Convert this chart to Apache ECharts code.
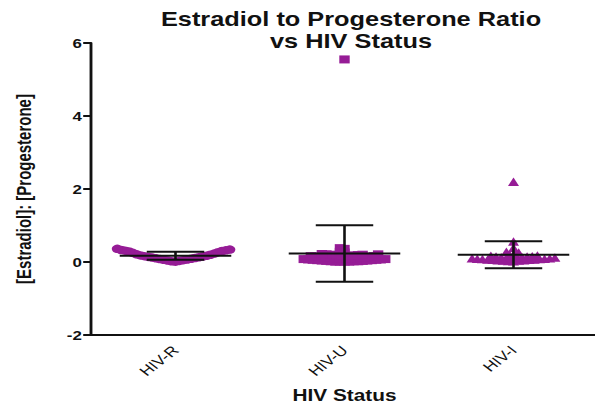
<!DOCTYPE html>
<html>
<head>
<meta charset="utf-8">
<script src="https://cdn.jsdelivr.net/npm/echarts@6/dist/echarts.min.js"></script>
<style>
  html, body { margin: 0; padding: 0; background: #fff; overflow: hidden; }
  #wrap { width: 595px; height: 408px; overflow: hidden; position: relative; }
  /* the figure is laid out narrow and widened horizontally */
  #chart { width: 460px; height: 408px; transform: scaleX(1.3); transform-origin: 0 0; }
</style>
</head>
<body>
<div id="wrap"><div id="chart"></div></div>
<script>
// Groups on the x axis
const categories = ['HIV-R', 'HIV-U', 'HIV-I'];

// Estradiol : progesterone ratio per subject
const hivR = [0.01, 0.02, 0.03, 0.04, 0.05, 0.06, 0.07, 0.08, 0.09, 0.10,
  0.11, 0.12, 0.13, 0.14, 0.15, 0.16, 0.17, 0.18, 0.20, 0.21,
  0.23, 0.25, 0.27, 0.29, 0.30, 0.31, 0.32, 0.33, 0.34, 0.36];

const hivU = [5.55, 0.38, 0.36, 0.28, 0.26,
  0.22, 0.21, 0.21, 0.20, 0.20, 0.19, 0.19, 0.18, 0.18, 0.17, 0.17, 0.16, 0.16, 0.15, 0.15,
  0.14, 0.13, 0.13, 0.12, 0.12, 0.11, 0.11, 0.10, 0.10, 0.09, 0.09, 0.08,
  0.08, 0.07, 0.07, 0.06, 0.06, 0.05, 0.05, 0.04,
  0.04, 0.03, 0.03, 0.02, 0.02, 0.02, 0.01, 0.01, 0.01, 0.01];

const hivI = [2.20, 0.56, 0.39, 0.28, 0.26, 0.23, 0.20,
  0.18, 0.17, 0.16, 0.15, 0.15, 0.14, 0.13, 0.13, 0.12, 0.12, 0.11, 0.10, 0.10,
  0.09, 0.09, 0.08, 0.08, 0.07, 0.07, 0.06, 0.06, 0.05, 0.05, 0.04, 0.04, 0.03, 0.02];

// Y axis range and tick step
const yMin = -2, yMax = 6, yStep = 2;

// Plot area in (unscaled) chart pixels
const GRID = { left: 70, top: 43, width: 392, height: 294 };
const pxPerX = GRID.width / categories.length;
const pxPerY = GRID.height / (yMax - yMin);

const PURPLE = '#961c96';
const INK = '#111111';
const FONT = '"Liberation Sans", Arial, Helvetica, sans-serif';

// Beeswarm: lowest values sit at the centre, higher ones are pushed outwards.
// yWeight < 1 flattens the swarm into a wider, shallower spread.
function swarm(values, center, minDist, yWeight) {
  const sorted = values.slice().sort((a, b) => a - b);
  const placed = [];
  const out = [];
  sorted.forEach(v => {
    const py = v * pxPerY * yWeight;
    let dx = 0;
    for (let k = 0; k < 600; k++) {
      const cand = (k % 2 === 0 ? 1 : -1) * Math.ceil(k / 2) * 0.5;
      const ok = placed.every(p => {
        const ddx = p[0] - cand, ddy = p[1] - py;
        return ddx * ddx + ddy * ddy >= minDist * minDist;
      });
      if (ok) { dx = cand; break; }
    }
    placed.push([dx, py]);
    out.push([center + dx / pxPerX, v]);
  });
  return out;
}

function stats(values) {
  const n = values.length;
  const mean = values.reduce((s, v) => s + v, 0) / n;
  const sd = Math.sqrt(values.reduce((s, v) => s + (v - mean) * (v - mean), 0) / (n - 1));
  return [mean, sd];
}

const groups = [hivR, hivU, hivI];
const symbols = ['circle', 'rect', 'triangle'];
const symbolSizes = [8.5, 8, 8.5];
const swarmGap = [2.6, 3.2, 3.6];
const swarmYWeight = [0.15, 1, 1];

const scatterSeries = groups.map((vals, i) => ({
  type: 'scatter',
  xAxisIndex: 1,
  symbol: symbols[i],
  symbolSize: symbolSizes[i],
  itemStyle: { color: PURPLE, opacity: 1 },
  z: 2,
  data: swarm(vals, i + 0.5, swarmGap[i], swarmYWeight[i])
}));

const barData = groups.map((vals, i) => {
  const s = stats(vals);
  return [i + 0.5, s[0], s[1]];
});

// Mean line and SD whisker half-widths, in category units
const meanHalf = 0.33, capHalf = 0.17;

const errorSeries = {
  type: 'custom',
  xAxisIndex: 1,
  z: 5,
  data: barData,
  renderItem: function (params, api) {
    const cx = api.value(0), m = api.value(1), sd = api.value(2);
    const style = { stroke: INK, lineWidth: 2 };
    const seg = (x1, y1, x2, y2) => {
      const a = api.coord([x1, y1]), b = api.coord([x2, y2]);
      return { type: 'line', shape: { x1: a[0], y1: a[1], x2: b[0], y2: b[1] }, style: style };
    };
    return {
      type: 'group',
      children: [
        seg(cx - meanHalf, m, cx + meanHalf, m),
        seg(cx, m - sd, cx, m + sd),
        seg(cx - capHalf, m + sd, cx + capHalf, m + sd),
        seg(cx - capHalf, m - sd, cx + capHalf, m - sd)
      ]
    };
  }
};

const chart = echarts.init(document.getElementById('chart'), null, { renderer: 'svg' });
chart.setOption({
  backgroundColor: '#ffffff',
  animation: false,
  title: {
    text: 'Estradiol to Progesterone Ratio\nvs HIV Status',
    left: 265,
    top: 4,
    textAlign: 'center',
    textStyle: { fontFamily: FONT, fontSize: 19.5, fontWeight: 'bold', color: INK, lineHeight: 22 }
  },
  grid: { left: GRID.left, top: GRID.top, width: GRID.width, height: GRID.height, containLabel: false },
  xAxis: [
    {
      type: 'category',
      data: categories,
      boundaryGap: true,
      name: 'HIV Status',
      nameLocation: 'middle',
      nameGap: 52,
      nameTextStyle: { fontFamily: FONT, fontSize: 16, fontWeight: 'bold', color: INK },
      axisLine: { onZero: false, lineStyle: { color: INK, width: 2 } },
      axisTick: { alignWithLabel: true, length: 7, lineStyle: { color: INK, width: 2 } },
      axisLabel: { rotate: 45, fontFamily: FONT, fontSize: 13.5, color: INK, margin: 13 },
      splitLine: { show: false }
    },
    {
      type: 'value',
      min: 0,
      max: categories.length,
      show: false
    }
  ],
  yAxis: {
    type: 'value',
    min: yMin,
    max: yMax,
    interval: yStep,
    name: '[Estradiol]: [Progesterone]',
    nameLocation: 'middle',
    nameRotate: 90,
    nameGap: 44,
    nameTextStyle: { fontFamily: FONT, fontSize: 15, fontWeight: 'bold', color: INK },
    axisLine: { show: true, lineStyle: { color: INK, width: 2.2 } },
    axisTick: { show: true, length: 6, lineStyle: { color: INK, width: 2 } },
    axisLabel: { fontFamily: FONT, fontSize: 13, fontWeight: 'bold', color: INK, margin: 7 },
    splitLine: { show: false }
  },
  series: scatterSeries.concat([errorSeries])
});
</script>
</body>
</html>
